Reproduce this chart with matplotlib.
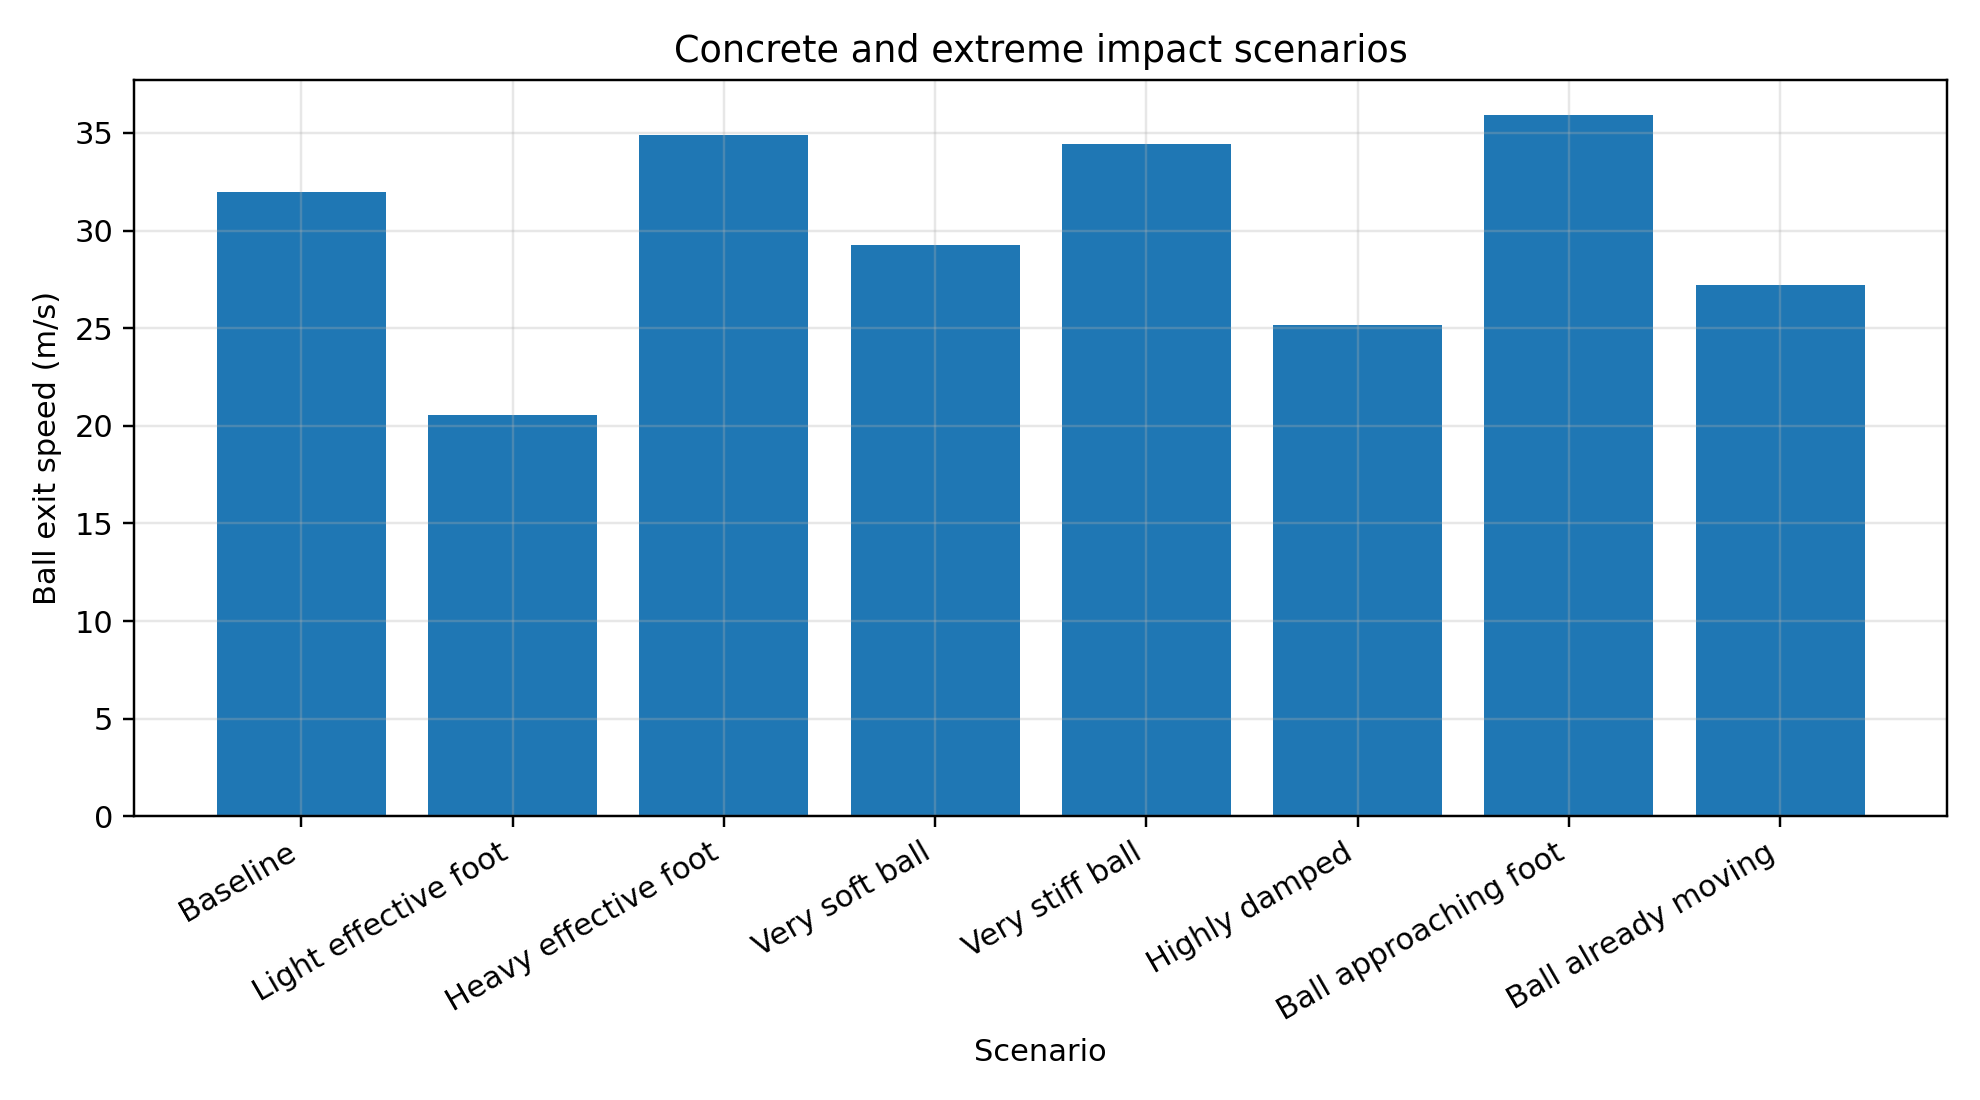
import numpy as np
import matplotlib
matplotlib.use("Agg")
import matplotlib.pyplot as plt

# scenario results (ball exit speed, m/s)
scenarios = ["Baseline", "Light effective foot", "Heavy effective foot",
             "Very soft ball", "Very stiff ball", "Highly damped",
             "Ball approaching foot", "Ball already moving"]
exit_speed = [31.97, 20.54, 34.92, 29.28, 34.45, 25.14, 35.90, 27.21]

fig, ax = plt.subplots(figsize=(9, 5), dpi=220)
x = np.arange(len(scenarios))
ax.bar(x, exit_speed)
ax.set_xticks(x)
ax.set_xticklabels(scenarios, rotation=30, ha="right")
ax.set_xlabel("Scenario")
ax.set_ylabel("Ball exit speed (m/s)")
ax.set_title("Concrete and extreme impact scenarios")
ax.grid(True, alpha=0.3)

fig.tight_layout()
fig.savefig("out.png")
